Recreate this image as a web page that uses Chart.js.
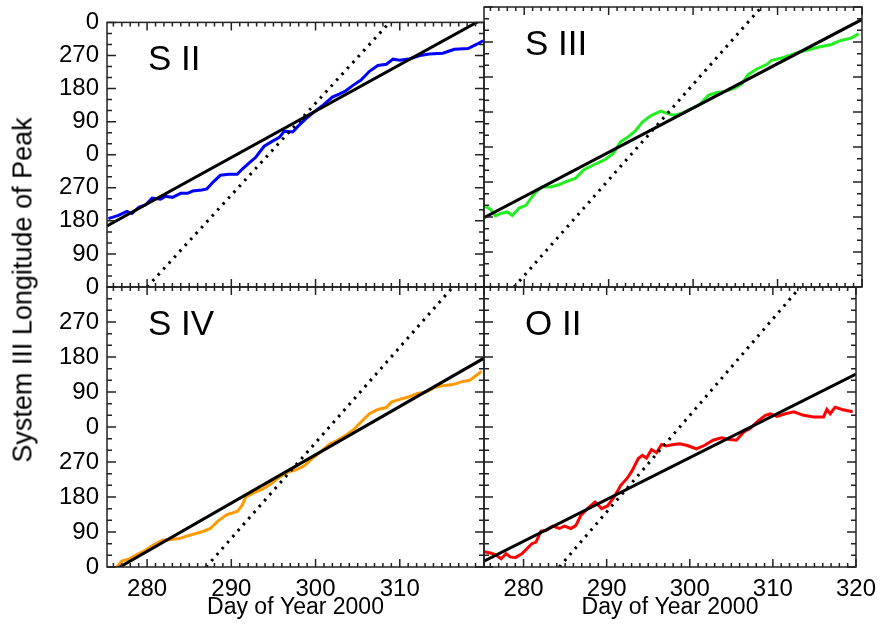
<!DOCTYPE html>
<html>
<head>
<meta charset="utf-8">
<script src="https://cdn.jsdelivr.net/npm/chart.js@4"></script>
<style>
  body { margin: 0; background: #fff; }
  #wrap { position: relative; width: 884px; height: 629px; }
  #wrap canvas { position: absolute; left: 0; top: 0; }
  #ytitle {
    position: absolute; left: 23px; top: 290px;
    transform: translate(-50%, -50%) rotate(-90deg);
    font: 27px "Liberation Sans", Arial, sans-serif; white-space: nowrap; color: #000;
  }
</style>
</head>
<body>
<div id="wrap">
  <canvas id="c1" width="884" height="629"></canvas>
  <canvas id="c2" width="884" height="629"></canvas>
  <canvas id="c3" width="884" height="629"></canvas>
  <canvas id="c4" width="884" height="629"></canvas>
  <div id="ytitle">System III Longitude of Peak</div>
</div>
<script>
// panel names and axis ticks
const panelNames = ['S II', 'S III', 'S IV', 'O II'];
const dayTicks = [280, 290, 300, 310, 320];
const lonTicks = [0, 90, 180, 270, 360, 450, 540, 630, 720];
const lonTickLabels = ['0', '90', '180', '270', '0', '90', '180', '270', '0'];
const dayMin = 275.24, dayMax = 320;

// S II (blue)
const sIIDay = [275.4,276.6,277.6,278.2,279.0,279.8,280.6,281.6,282.2,283.0,284.0,284.8,285.4,286.5,287.1,287.9,288.7,289.7,290.7,291.3,292.1,292.9,293.9,294.9,295.7,296.3,297.3,297.9,298.8,299.8,300.8,302.0,302.8,303.6,304.4,305.4,306.4,307.4,308.4,309.2,310.0,311.2,312.4,313.5,315.1,316.5,318.1,319.1,319.9];
const sIIVal = [186,195,206,200,217,223,242,239,247,244,255,255,261,264,267,287,304,307,307,321,337,353,383,397,407,424,422,437,457,476,493,517,525,534,548,563,587,603,606,620,617,621,630,634,636,647,649,660,670];
const sIIFitDay = [275.24, 320], sIIFitVal = [166, 731];
const sIIRefDay = [280.0, 308.8], sIIRefVal = [0, 720];

// S III (green)
const sIIIDay = [275.4,276.0,276.6,277.2,278.0,278.6,279.4,280.2,281.2,282.1,283.1,284.1,285.1,286.1,287.1,288.3,289.5,290.5,291.4,292.3,293.1,294.0,295.0,296.2,297.0,297.8,298.8,299.8,300.8,301.8,302.8,303.8,305.0,305.8,306.5,307.5,308.7,309.3,310.5,311.5,312.5,313.7,314.9,316.3,317.5,318.7,319.6];
const sIIIVal = [207,200,183,189,193,184,203,210,240,257,257,263,272,280,302,315,327,343,373,386,400,424,441,452,446,441,448,459,469,493,500,503,512,523,546,560,572,583,589,596,604,610,617,623,634,640,651];
const sIIIFitDay = [275.24, 320], sIIIFitVal = [178, 688];
const sIIIRefDay = [278.8, 308.1], sIIIRefVal = [0, 720];

// S IV (orange)
const sIVDay = [276.4,277.0,277.8,278.8,279.8,280.8,281.8,282.8,283.8,284.8,285.8,286.7,287.5,288.5,289.5,290.7,291.3,291.7,292.7,293.7,294.7,295.7,296.7,297.7,298.7,299.6,300.6,301.6,302.6,303.6,304.4,305.4,306.4,307.4,308.4,309.0,310.0,311.0,312.1,313.1,314.3,315.3,316.3,317.3,318.3,319.1,319.7];
const sIVVal = [0,15,20,32,43,57,69,71,73,80,86,92,99,120,135,143,159,180,191,200,214,231,244,250,261,279,296,315,326,339,351,373,394,405,410,424,431,437,446,450,463,467,469,476,480,493,503];
const sIVFitDay = [275.24, 320], sIVFitVal = [-19, 537];
const sIVRefDay = [287.0, 316.3], sIVRefVal = [0, 720];

// O II (red)
const oIIDay = [275.3,276.0,276.6,277.3,277.9,278.4,279.0,279.8,280.4,281.0,281.5,282.1,282.7,283.5,284.3,284.9,285.7,286.3,286.9,287.9,288.6,289.4,290.1,290.9,291.7,292.5,293.1,293.8,294.3,294.8,295.4,296.0,296.6,297.2,298.0,298.8,299.6,300.8,301.8,302.8,303.8,304.8,305.6,306.5,307.3,308.3,309.1,309.7,310.5,311.5,312.5,313.7,314.9,316.1,316.5,316.9,317.5,318.3,319.6];
const oIIVal = [39,36,32,21,34,26,24,34,47,60,64,92,94,105,99,105,99,107,133,154,167,150,157,180,210,229,249,279,287,280,302,294,315,311,315,317,313,304,313,326,332,328,326,347,357,377,390,394,387,394,399,390,386,386,405,394,411,405,399];
const oIIFitDay = [275.24, 320], oIIFitVal = [15, 496];
const oIIRefDay = [284.3, 313.3], oIIRefVal = [0, 720];

const FONT = '"Liberation Sans", Arial, sans-serif';
const pts = (xs, ys) => xs.map((x, i) => ({ x: x, y: ys[i] }));

// IDL-style frame with inward ticks on all four sides
const frameTicks = {
  id: 'frameTicks',
  afterDatasetsDraw(chart) {
    const { ctx, chartArea: a } = chart;
    const x = chart.scales.x, y = chart.scales.y;
    ctx.save();
    ctx.strokeStyle = '#222';
    ctx.lineWidth = 1.5;
    ctx.beginPath();
    for (let d = Math.ceil(x.min); d <= x.max; d++) {
      const px = x.getPixelForValue(d);
      const len = d % 10 === 0 ? 8 : 4;
      ctx.moveTo(px, a.bottom); ctx.lineTo(px, a.bottom - len);
      ctx.moveTo(px, a.top); ctx.lineTo(px, a.top + len);
    }
    for (let v = 0; v <= 720; v += 30) {
      const py = y.getPixelForValue(v);
      const len = v % 90 === 0 ? 9 : 5;
      ctx.moveTo(a.left, py); ctx.lineTo(a.left + len, py);
      ctx.moveTo(a.right, py); ctx.lineTo(a.right - len, py);
    }
    ctx.stroke();
    ctx.strokeRect(a.left, a.top, a.right - a.left, a.bottom - a.top);
    ctx.restore();
  }
};

const panelLabel = {
  id: 'panelLabel',
  afterDraw(chart, args, opts) {
    const { ctx, chartArea: a } = chart;
    ctx.save();
    ctx.fillStyle = '#000';
    ctx.font = '35px ' + FONT;
    ctx.textBaseline = 'alphabetic';
    ctx.fillText(opts.text, a.left + 41, a.top + 48);
    ctx.restore();
  }
};

function makePanel(id, name, color, day, val, fitDay, fitVal, refDay, refVal, left, bottom) {
  const tickFont = { family: FONT, size: 24 };
  new Chart(document.getElementById(id), {
    type: 'scatter',
    data: {
      datasets: [
        { data: pts(fitDay, fitVal), showLine: true, borderColor: '#000', borderWidth: 3, pointRadius: 0 },
        { data: pts(refDay, refVal), showLine: true, borderColor: '#000', borderWidth: 3, borderDash: [2.5, 5.5], pointRadius: 0 },
        { data: pts(day, val), showLine: true, borderColor: color, borderWidth: 3, pointRadius: 0 }
      ]
    },
    options: {
      responsive: false,
      animation: false,
      events: [],
      layout: {
        autoPadding: false,
        padding: { left: left ? 0 : 484, right: left ? 400 : 22, top: bottom ? 287 : 7, bottom: bottom ? 0 : 342 }
      },
      scales: {
        x: {
          type: 'linear', min: dayMin, max: dayMax,
          display: bottom,
          grid: { display: false, drawTicks: false },
          border: { display: false },
          afterBuildTicks: s => { s.ticks = dayTicks.map(v => ({ value: v })); },
          afterFit: s => { if (bottom) s.height = 62; },
          ticks: {
            color: '#000', font: tickFont, padding: 8, maxRotation: 0, autoSkip: false,
            callback: v => (left && v === 320) ? '' : String(v)
          },
          title: { display: true, text: 'Day of Year 2000', color: '#000', font: { family: FONT, size: 23 }, padding: { top: 0, bottom: 8 } }
        },
        y: {
          type: 'linear', min: 0, max: 720,
          display: left,
          grid: { display: false, drawTicks: false },
          border: { display: false },
          afterBuildTicks: s => { s.ticks = lonTicks.map(v => ({ value: v })); },
          afterFit: s => { if (left) s.width = 107; },
          ticks: {
            color: '#000', font: tickFont, padding: 8, autoSkip: false,
            callback: v => (bottom && v === 720) ? '' : lonTickLabels[lonTicks.indexOf(v)]
          }
        }
      },
      plugins: {
        legend: { display: false },
        tooltip: { enabled: false },
        panelLabel: { text: name }
      }
    },
    plugins: [frameTicks, panelLabel]
  });
}

makePanel('c1', panelNames[0], '#0000ff', sIIDay, sIIVal, sIIFitDay, sIIFitVal, sIIRefDay, sIIRefVal, true, false);
makePanel('c2', panelNames[1], '#22ee22', sIIIDay, sIIIVal, sIIIFitDay, sIIIFitVal, sIIIRefDay, sIIIRefVal, false, false);
makePanel('c3', panelNames[2], '#ff9900', sIVDay, sIVVal, sIVFitDay, sIVFitVal, sIVRefDay, sIVRefVal, true, true);
makePanel('c4', panelNames[3], '#ff0000', oIIDay, oIIVal, oIIFitDay, oIIFitVal, oIIRefDay, oIIRefVal, false, true);
</script>
</body>
</html>
